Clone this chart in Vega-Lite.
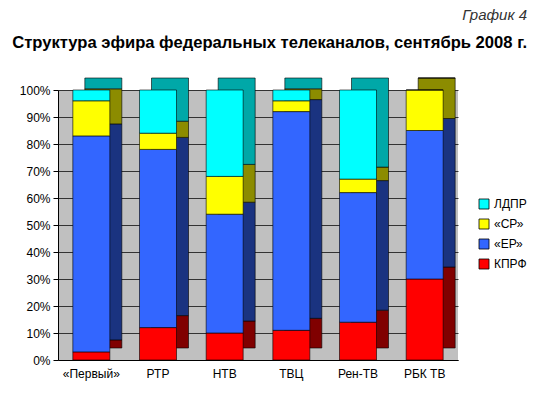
{
  "$schema": "https://vega.github.io/schema/vega-lite/v6.json",
  "width": 400,
  "height": 270,
  "padding": {"left": 5, "top": 8, "right": 5, "bottom": 5},
  "background": "white",
  "title": {
    "text": "График 4",
    "subtitle": "Структура эфира федеральных телеканалов, сентябрь 2008 г.",
    "anchor": "end",
    "frame": "bounds",
    "font": "Liberation Sans",
    "fontSize": 15,
    "fontStyle": "italic",
    "fontWeight": "normal",
    "color": "#333333",
    "subtitleFont": "Liberation Sans",
    "subtitleFontSize": 16.6,
    "subtitleFontWeight": "bold",
    "subtitleColor": "#000000",
    "subtitlePadding": 12,
    "offset": 26
  },
  "data": {
    "values": [
      {"channel": "«Первый»", "party": "КПРФ", "share": 3},
      {"channel": "«Первый»", "party": "«ЕР»", "share": 80},
      {"channel": "«Первый»", "party": "«СР»", "share": 13},
      {"channel": "«Первый»", "party": "ЛДПР", "share": 4},
      {"channel": "РТР", "party": "КПРФ", "share": 12},
      {"channel": "РТР", "party": "«ЕР»", "share": 66},
      {"channel": "РТР", "party": "«СР»", "share": 6},
      {"channel": "РТР", "party": "ЛДПР", "share": 16},
      {"channel": "НТВ", "party": "КПРФ", "share": 10},
      {"channel": "НТВ", "party": "«ЕР»", "share": 44},
      {"channel": "НТВ", "party": "«СР»", "share": 14},
      {"channel": "НТВ", "party": "ЛДПР", "share": 32},
      {"channel": "ТВЦ", "party": "КПРФ", "share": 11},
      {"channel": "ТВЦ", "party": "«ЕР»", "share": 81},
      {"channel": "ТВЦ", "party": "«СР»", "share": 4},
      {"channel": "ТВЦ", "party": "ЛДПР", "share": 4},
      {"channel": "Рен-ТВ", "party": "КПРФ", "share": 14},
      {"channel": "Рен-ТВ", "party": "«ЕР»", "share": 48},
      {"channel": "Рен-ТВ", "party": "«СР»", "share": 5},
      {"channel": "Рен-ТВ", "party": "ЛДПР", "share": 33},
      {"channel": "РБК ТВ", "party": "КПРФ", "share": 30},
      {"channel": "РБК ТВ", "party": "«ЕР»", "share": 55},
      {"channel": "РБК ТВ", "party": "«СР»", "share": 15},
      {"channel": "РБК ТВ", "party": "ЛДПР", "share": 0}
    ]
  },
  "transform": [
    {"calculate": "indexof(['КПРФ', '«ЕР»', '«СР»', 'ЛДПР'], datum.party)", "as": "stackOrder"}
  ],
  "encoding": {
    "x": {
      "field": "channel",
      "type": "nominal",
      "sort": null,
      "title": null,
      "axis": {
        "labelAngle": 0,
        "labelFont": "Liberation Sans",
        "labelFontSize": 12,
        "labelColor": "#000000",
        "labelPadding": 8,
        "ticks": false,
        "domainColor": "#000000"
      }
    },
    "y": {
      "field": "share",
      "type": "quantitative",
      "stack": "normalize",
      "scale": {"domain": [0, 1]},
      "title": null,
      "axis": {
        "values": [0, 0.1, 0.2, 0.3, 0.4, 0.5, 0.6, 0.7, 0.8, 0.9, 1],
        "format": ".0%",
        "labelFont": "Liberation Sans",
        "labelFontSize": 12,
        "labelColor": "#000000",
        "labelPadding": 3,
        "tickSize": 5,
        "tickColor": "#000000",
        "domainColor": "#000000",
        "minExtent": 53,
        "grid": true,
        "gridColor": "#333333",
        "gridWidth": 1
      }
    },
    "order": {"field": "stackOrder"}
  },
  "layer": [
    {
      "mark": {"type": "bar", "size": 37, "xOffset": 12, "yOffset": -12, "stroke": "#000000", "strokeWidth": 0.6},
      "encoding": {
        "color": {
          "field": "party",
          "type": "nominal",
          "scale": {
            "domain": ["ЛДПР", "«СР»", "«ЕР»", "КПРФ"],
            "range": ["#00A8A8", "#8C8C00", "#1A3380", "#800000"]
          },
          "legend": null
        }
      }
    },
    {
      "mark": {"type": "bar", "size": 37, "stroke": "#000000", "strokeWidth": 0.6},
      "encoding": {
        "color": {
          "field": "party",
          "type": "nominal",
          "scale": {
            "domain": ["ЛДПР", "«СР»", "«ЕР»", "КПРФ"],
            "range": ["#00FFFF", "#FFFF00", "#3366FF", "#FF0000"]
          },
          "legend": {
            "title": null,
            "orient": "none",
            "legendX": 420,
            "legendY": 108,
            "symbolType": "square",
            "symbolSize": 100,
            "symbolStrokeColor": "#000000",
            "symbolStrokeWidth": 0.8,
            "labelFont": "Liberation Sans",
            "labelFontSize": 12,
            "labelColor": "#000000",
            "rowPadding": 6,
            "labelOffset": 4
          }
        }
      }
    }
  ],
  "resolve": {"scale": {"color": "independent"}},
  "config": {
    "view": {"fill": "#C0C0C0", "stroke": null}
  }
}
